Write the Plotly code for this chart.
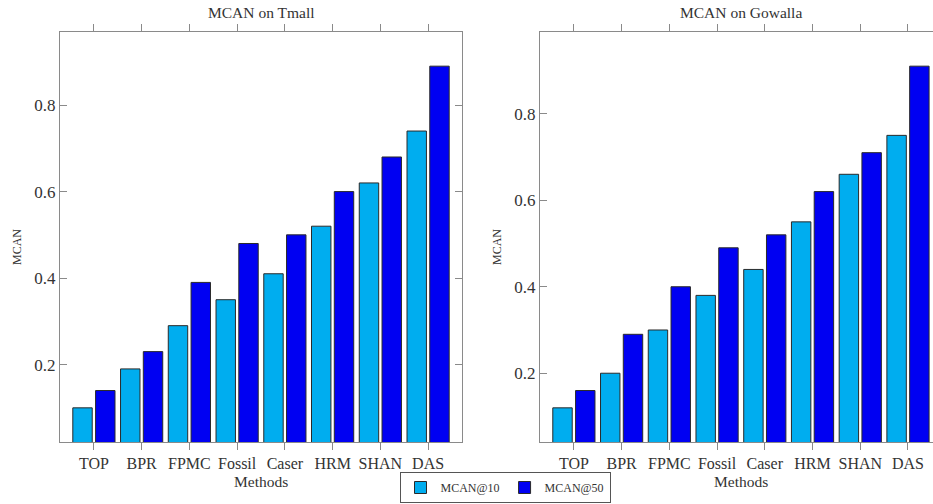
import plotly.graph_objects as go

methods = ["TOP", "BPR", "FPMC", "Fossil", "Caser", "HRM", "SHAN", "DAS"]
tmall_10 = [0.10, 0.19, 0.29, 0.35, 0.41, 0.52, 0.62, 0.74]
tmall_50 = [0.14, 0.23, 0.39, 0.48, 0.50, 0.60, 0.68, 0.89]
gowalla_10 = [0.12, 0.20, 0.30, 0.38, 0.44, 0.55, 0.66, 0.75]
gowalla_50 = [0.16, 0.29, 0.40, 0.49, 0.52, 0.62, 0.71, 0.91]
y_ticks = [0.2, 0.4, 0.6, 0.8]
y_tick_labels = ["0.2", "0.4", "0.6", "0.8"]

W, H = 933, 504
C10 = "#00ADEF"
C50 = "#0000F2"
EDGE = "#2a2a2a"
AX = "#8a8a8a"
TXT = "#333333"
FONT = "Liberation Serif, Times New Roman, serif"

xs = list(range(len(methods)))
bw = 0.407

fig = go.Figure()
for data10, data50, xa, ya, show in [
    (tmall_10, tmall_50, "x", "y", True),
    (gowalla_10, gowalla_50, "x2", "y2", False),
]:
    fig.add_trace(go.Bar(x=xs, y=data10, name="MCAN@10", marker=dict(color=C10, line=dict(color=EDGE, width=1)),
                         width=bw, offset=-0.442, xaxis=xa, yaxis=ya, showlegend=show))
    fig.add_trace(go.Bar(x=xs, y=data50, name="MCAN@50", marker=dict(color=C50, line=dict(color=EDGE, width=1)),
                         width=bw, offset=0.035, xaxis=xa, yaxis=ya, showlegend=show))

ytop = 1 - 32 / H
ybot = 1 - 442 / H
common_x = dict(tickmode="array", tickvals=xs, ticktext=methods, ticks="outside", ticklen=7,
                tickcolor=AX, showline=True, linecolor=AX, linewidth=1.2, showgrid=False,
                zeroline=False, tickfont=dict(family=FONT, size=16, color=TXT), fixedrange=True)
common_y = dict(tickmode="array", tickvals=y_ticks, ticktext=y_tick_labels, ticks="inside", ticklen=7,
                tickcolor=AX, showline=True, linecolor=AX, linewidth=1.2, showgrid=False,
                zeroline=False, tickfont=dict(family=FONT, size=17, color=TXT), fixedrange=True)


def label(text, x, y, size, angle=0):
    return dict(text=text, x=x / W, y=1 - y / H, xref="paper", yref="paper", showarrow=False,
                xanchor="center", yanchor="middle", textangle=angle,
                font=dict(family=FONT, size=size, color=TXT))


fig.update_layout(
    width=W, height=H,
    margin=dict(l=0, r=0, t=0, b=0, autoexpand=False),
    paper_bgcolor="white", plot_bgcolor="white",
    barmode="overlay",
    xaxis=dict(domain=[60 / W, 462 / W], range=[-0.71, 7.71], mirror="ticks", anchor="y", **common_x),
    yaxis=dict(domain=[ybot, ytop], range=[0.021, 0.969], mirror="ticks", anchor="x", **common_y),
    xaxis2=dict(domain=[540 / W, 1.0], range=[-0.71, 7.524], mirror="ticks", anchor="y2", **common_x),
    yaxis2=dict(domain=[ybot, ytop], range=[0.041, 0.989], mirror=False, anchor="x2", **common_y),
    legend=dict(orientation="h", x=505 / W, xanchor="center", y=1 - 503 / H, yanchor="bottom",
                bordercolor="#555555", borderwidth=1, bgcolor="white",
                font=dict(family=FONT, size=12, color=TXT), itemwidth=30, tracegroupgap=0),
    annotations=[
        label("MCAN on Tmall", 261, 12, 15.5),
        label("MCAN on Gowalla", 741, 12, 15.5),
        label("Methods", 261, 481, 15.5),
        label("Methods", 741, 481, 15.5),
        label("MCAN", 17, 247, 12, -90),
        label("MCAN", 497, 247, 12, -90),
    ],
)

fig.write_html("out.html", config={"displayModeBar": False})
